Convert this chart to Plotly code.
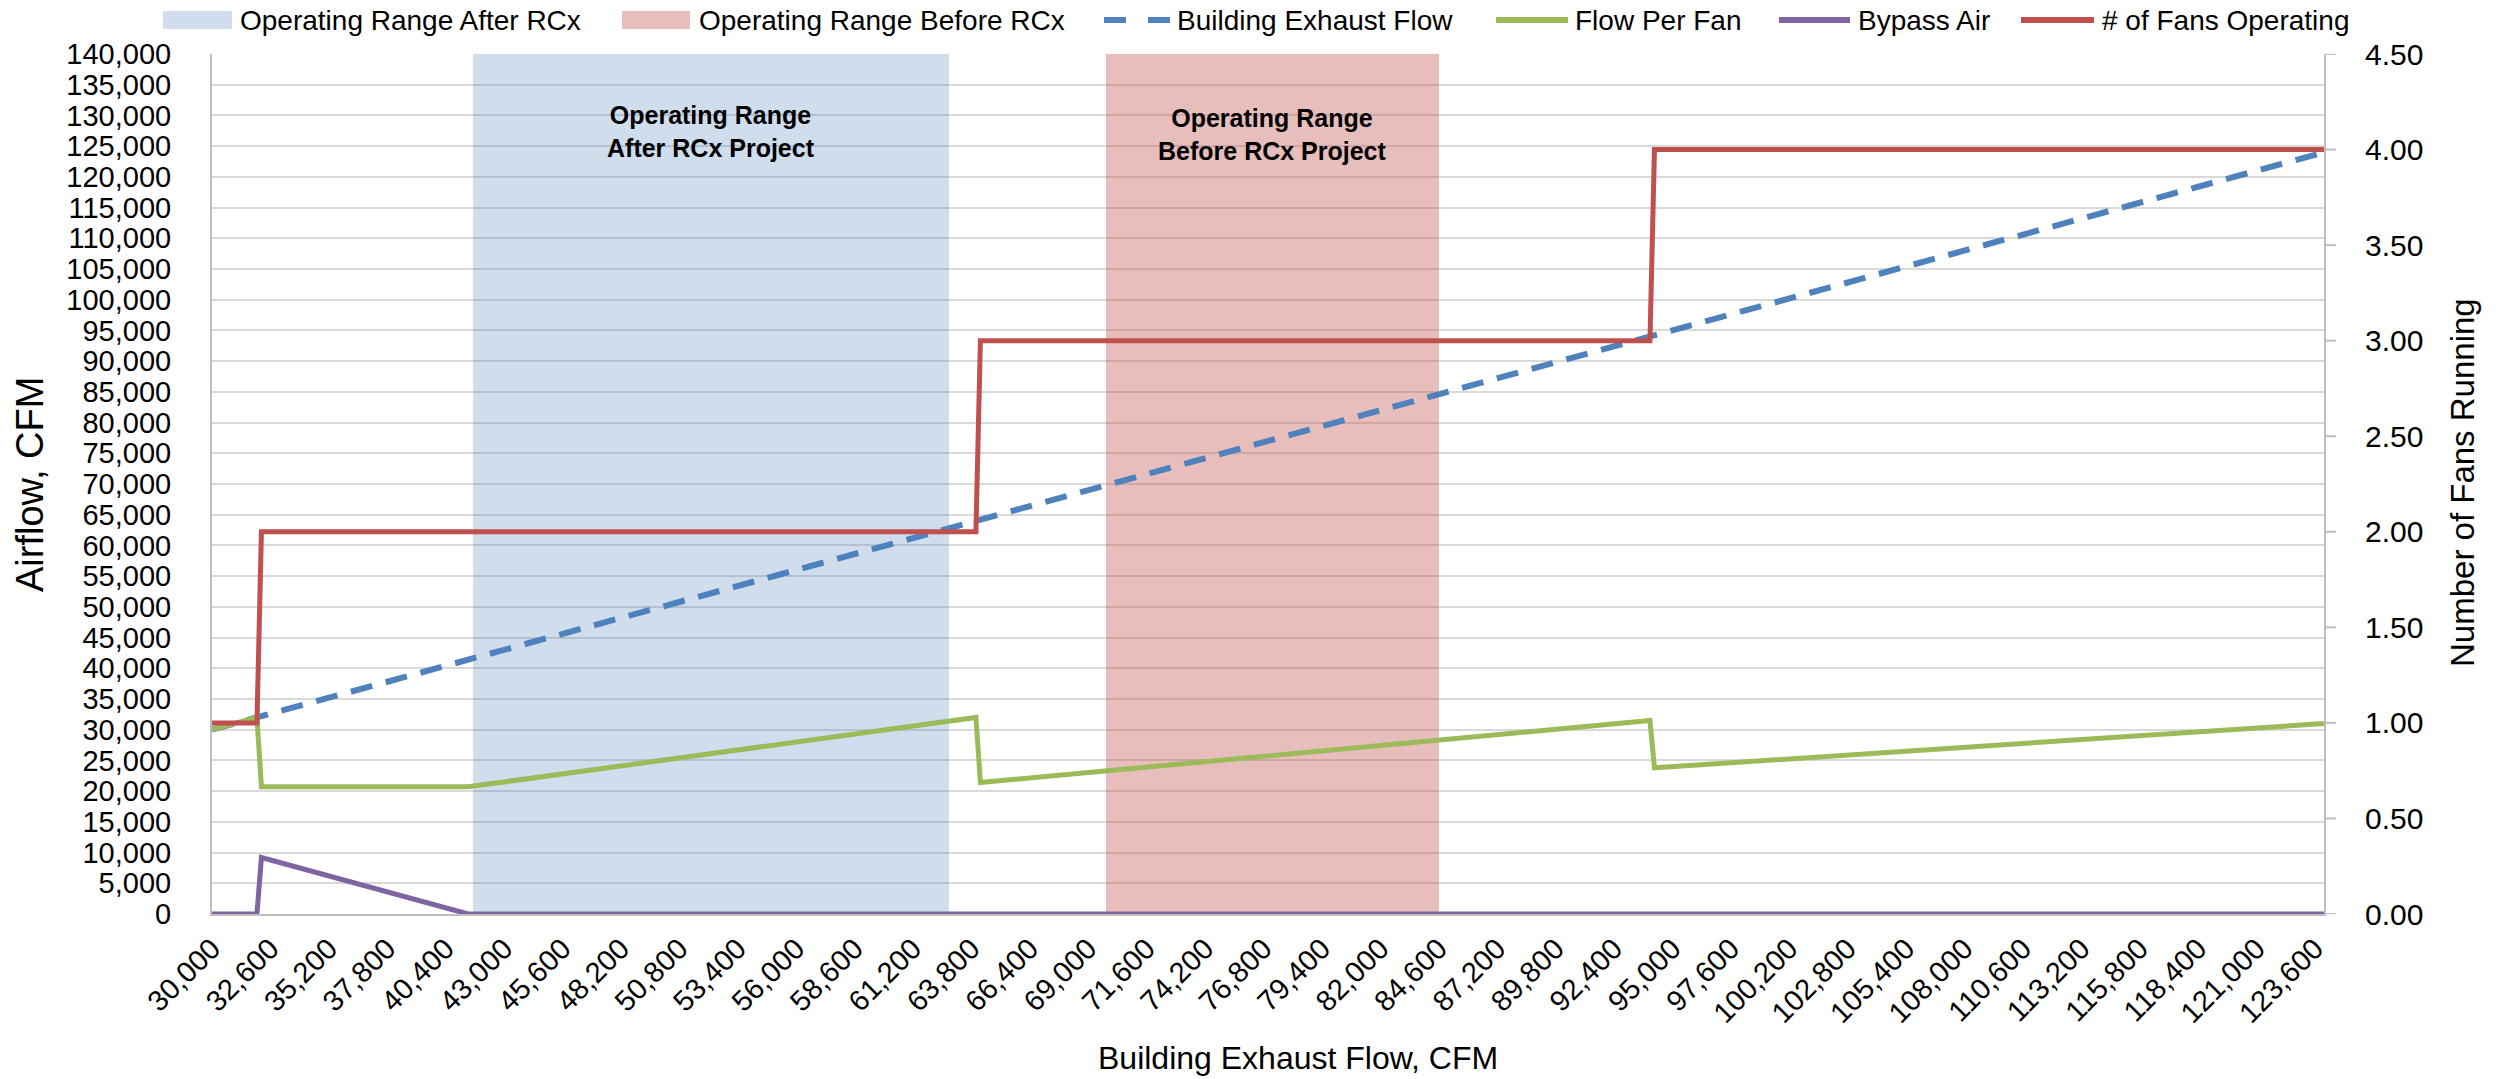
import plotly.graph_objects as go

# Building exhaust flow (CFM) – plotted against itself as the reference line
exhaust_x = [30000, 124000]
exhaust_flow = [30000, 124000]

# Airflow delivered by each running fan
fan_x = [30000, 32000, 32200, 41400, 64000, 64200, 94000, 94200, 124000]
flow_per_fan = [30000, 32000, 20700, 20700, 32000, 21400, 31500, 23800, 31000]

# Bypass air drawn in to keep the minimum fan flow
bypass_x = [30000, 32000, 32200, 41400, 124000]
bypass_air = [0, 0, 9200, 0, 0]

# Number of fans in operation (right axis)
fans_x = [30000, 32000, 32200, 64000, 64200, 94000, 94200, 124000]
fans_running = [1, 1, 2, 2, 3, 3, 4, 4]

# Shaded operating ranges (CFM)
after_rcx_range = [41600, 62800]
before_rcx_range = [69800, 84600]

# Axis settings
x_range = [30000, 124000]
x_tick_values = [30000 + 2600 * i for i in range(37)]
x_tick_text = [f"{v:,}" for v in x_tick_values]
y_max = 140000
y2_max = 4.5
y2_ticks = [0.5 * i for i in range(10)]

FONT = "Liberation Sans, Arial, sans-serif"
BLUE = "#4F81BD"
GREEN = "#9BBB59"
PURPLE = "#8064A2"
RED = "#C0504D"
GRID = "#D9D9D9"
AXIS = "#BFBFBF"
AFTER_FILL = "rgba(79,129,189,0.27)"
BEFORE_FILL = "rgba(192,80,77,0.37)"

W, H = 2496, 1079
L, R, T, B = 212, 172, 54, 165
PW, PH = W - L - R, H - T - B


def px_x(px):
    """Pixel column -> paper x."""
    return (px - L) / PW


def px_y(py):
    """Pixel row -> paper y."""
    return (H - B - py) / PH


fig = go.Figure()

# Shaded ranges as full-height bars
for name, rng, color in [
    ("Operating Range After RCx", after_rcx_range, AFTER_FILL),
    ("Operating Range Before RCx", before_rcx_range, BEFORE_FILL),
]:
    fig.add_trace(go.Bar(
        x=[(rng[0] + rng[1]) / 2], y=[y_max], width=[rng[1] - rng[0]],
        name=name, marker=dict(color=color, line=dict(width=0)),
        hoverinfo="skip", showlegend=False,
    ))

fig.add_trace(go.Scatter(
    x=exhaust_x, y=exhaust_flow, mode="lines", name="Building Exhaust Flow",
    line=dict(color=BLUE, width=6, dash="22px,14px"), showlegend=False,
))
fig.add_trace(go.Scatter(
    x=fan_x, y=flow_per_fan, mode="lines", name="Flow Per Fan",
    line=dict(color=GREEN, width=5), showlegend=False,
))
fig.add_trace(go.Scatter(
    x=bypass_x, y=bypass_air, mode="lines", name="Bypass Air",
    line=dict(color=PURPLE, width=5), showlegend=False,
))
fig.add_trace(go.Scatter(
    x=fans_x, y=fans_running, mode="lines", name="# of Fans Operating",
    line=dict(color=RED, width=5), yaxis="y2", showlegend=False,
))

annotations = []
shapes = []

# Range labels
for rng, text, ypos in [
    (after_rcx_range, "<b>Operating Range</b><br><b>After RCx Project</b>", 131),
    (before_rcx_range, "<b>Operating Range</b><br><b>Before RCx Project</b>", 135),
]:
    annotations.append(dict(
        x=(rng[0] + rng[1]) / 2, y=px_y(ypos), xref="x", yref="paper",
        text=text, showarrow=False, font=dict(family=FONT, size=25, color="black"),
        xanchor="center", yanchor="middle",
    ))

# Legend row across the top: (kind, colour, label, swatch x0, swatch x1, text x)
legend_items = [
    ("rect", AFTER_FILL, "Operating Range After RCx", 163, 232, 239),
    ("rect", BEFORE_FILL, "Operating Range Before RCx", 622, 690, 698),
    ("dash", BLUE, "Building Exhaust Flow", 1104, 1170, 1176),
    ("line", GREEN, "Flow Per Fan", 1496, 1568, 1574),
    ("line", PURPLE, "Bypass Air", 1779, 1850, 1857),
    ("line", RED, "# of Fans Operating", 2021, 2094, 2101),
]
legend_y = 20
for kind, color, label, x0, x1, tx in legend_items:
    if kind == "rect":
        shapes.append(dict(
            type="rect", xref="paper", yref="paper",
            x0=px_x(x0), x1=px_x(x1), y0=px_y(legend_y + 9), y1=px_y(legend_y - 9),
            fillcolor=color, line=dict(width=0), layer="above",
        ))
    else:
        shapes.append(dict(
            type="line", xref="paper", yref="paper",
            x0=px_x(x0), x1=px_x(x1), y0=px_y(legend_y), y1=px_y(legend_y),
            line=dict(color=color, width=6, dash="22px,22px" if kind == "dash" else "solid"),
            layer="above",
        ))
    annotations.append(dict(
        x=px_x(tx), y=px_y(legend_y), xref="paper", yref="paper",
        text=label, showarrow=False, xanchor="left", yanchor="middle",
        font=dict(family=FONT, size=28, color="black"), borderpad=0,
    ))

# Short outside tick marks on the right axis
for v in y2_ticks:
    shapes.append(dict(
        type="line", xref="paper", yref="y2",
        x0=1.0, x1=px_x(L + PW + 12), y0=v, y1=v,
        line=dict(color=AXIS, width=2), layer="above",
    ))

# Axis titles
annotations.append(dict(
    x=px_x(1298), y=px_y(1077), xref="paper", yref="paper",
    text="Building Exhaust Flow, CFM", showarrow=False,
    xanchor="center", yanchor="bottom", borderpad=0,
    font=dict(family=FONT, size=32, color="black"),
))
annotations.append(dict(
    x=px_x(30), y=px_y(485), xref="paper", yref="paper",
    text="Airflow, CFM", showarrow=False, textangle=-90,
    xanchor="center", yanchor="middle", font=dict(family=FONT, size=38, color="black"),
))
annotations.append(dict(
    x=px_x(2462), y=px_y(483), xref="paper", yref="paper",
    text="Number of Fans Running", showarrow=False, textangle=-90,
    xanchor="center", yanchor="middle", font=dict(family=FONT, size=33, color="black"),
))

fig.update_layout(
    width=W, height=H,
    margin=dict(l=L, r=R, t=T, b=B, autoexpand=False),
    paper_bgcolor="white", plot_bgcolor="white",
    barmode="overlay", bargap=0,
    font=dict(family=FONT, size=30, color="black"),
    showlegend=False,
    annotations=annotations,
    shapes=shapes,
    xaxis=dict(
        range=x_range, tickvals=x_tick_values, ticktext=x_tick_text,
        tickangle=-45, tickfont=dict(size=29),
        ticks="outside", ticklen=4, tickcolor="rgba(0,0,0,0)",
        showgrid=False, zeroline=False,
        showline=True, linecolor=AXIS, linewidth=2,
        automargin=False,
    ),
    yaxis=dict(
        range=[0, y_max], dtick=5000, tickformat=",",
        tickfont=dict(size=29),
        ticks="outside", ticklen=33, tickcolor="rgba(0,0,0,0)",
        showgrid=True, gridcolor=GRID, gridwidth=2,
        zeroline=False, showline=True, linecolor=AXIS, linewidth=2,
        automargin=False,
    ),
    yaxis2=dict(
        range=[0, y2_max], tickvals=y2_ticks, tickformat=".2f",
        overlaying="y", side="right",
        tickfont=dict(size=30),
        ticks="outside", ticklen=33, tickcolor="rgba(0,0,0,0)",
        showgrid=False, zeroline=False, showline=True, linecolor=AXIS, linewidth=2,
        automargin=False,
    ),
)

fig.write_html("out.html")
